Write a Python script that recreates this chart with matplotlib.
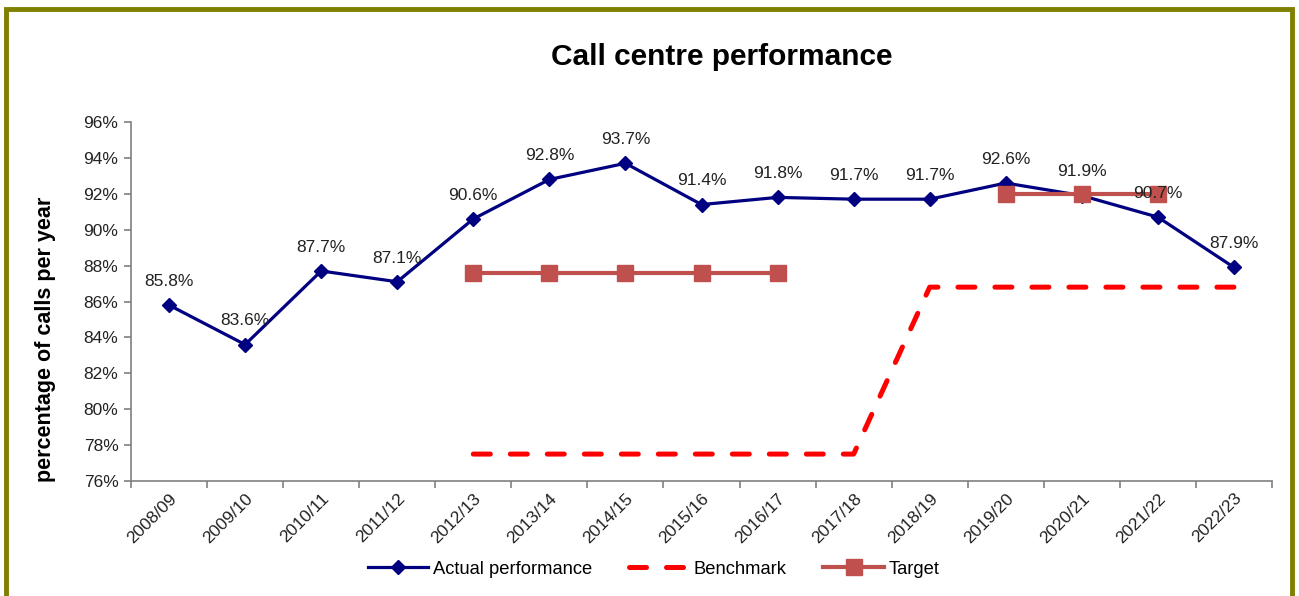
import numpy as np
import matplotlib
matplotlib.use("Agg")
from matplotlib import pyplot as plt
from matplotlib.patches import Rectangle

plt.rcParams['font.family'] = ['Liberation Sans', 'DejaVu Sans']

years = ['2008/09', '2009/10', '2010/11', '2011/12', '2012/13', '2013/14', '2014/15',
         '2015/16', '2016/17', '2017/18', '2018/19', '2019/20', '2020/21', '2021/22', '2022/23']
actual = [85.8, 83.6, 87.7, 87.1, 90.6, 92.8, 93.7, 91.4, 91.8, 91.7, 91.7, 92.6, 91.9, 90.7, 87.9]
benchmark = [np.nan, np.nan, np.nan, np.nan, 77.5, 77.5, 77.5, 77.5, 77.5, 77.5,
             86.8, 86.8, 86.8, 86.8, 86.8]
target = [np.nan, np.nan, np.nan, np.nan, 87.6, 87.6, 87.6, 87.6, 87.6, np.nan,
          np.nan, 92.0, 92.0, 92.0, np.nan]

x = np.arange(len(years))

fig = plt.figure(figsize=(12.99, 5.96), dpi=100)
ax = fig.add_axes([131/1299, 1 - 481/596, (1272 - 131)/1299, (481 - 122)/596])

# series
ax.plot(x, benchmark, color='#FF0000', lw=3.6, dashes=(3.4, 4.0),
        dash_capstyle='round', label='Benchmark', zorder=2)
ax.plot(x, actual, color='#000080', lw=2.3, marker='D', ms=7,
        label='Actual performance', zorder=3)
ax.plot(x, target, color='#C0504D', lw=3, marker='s', ms=12,
        label='Target', zorder=4)

# data labels
for xi, v in zip(x, actual):
    ax.annotate(f'{v:.1f}%', (xi, v), xytext=(0, 17), textcoords='offset points',
                ha='center', va='center', fontsize=12.5, color='#222222', zorder=5)

# axes styling
ax.set_xlim(-0.5, len(years) - 0.5)
ax.set_ylim(76, 96)
ax.set_yticks(np.arange(76, 97, 2))
ax.set_yticklabels([f'{v}%' for v in range(76, 97, 2)], fontsize=12.5, color='#222222')
ax.set_xticks(x)
ax.set_xticklabels(years, rotation=45, ha='right', rotation_mode='anchor',
                   fontsize=12.5, color='#222222')
ax.set_xticks(np.arange(-0.5, len(years), 1), minor=True)
ax.tick_params(axis='x', which='major', length=0, pad=7)
ax.tick_params(axis='x', which='minor', length=5, color='#808080', width=1.2)
ax.tick_params(axis='y', length=5, color='#808080', width=1.2, pad=4)
for s in ['top', 'right']:
    ax.spines[s].set_visible(False)
for s in ['left', 'bottom']:
    ax.spines[s].set_color('#808080')
    ax.spines[s].set_linewidth(1.2)

ax.set_ylabel('percentage of calls per year', fontsize=15.5, fontweight='bold')
ax.yaxis.set_label_coords(-0.0655, 0.395)
fig.text(0.556, 1 - 57/596, 'Call centre performance', ha='center', va='center',
         fontsize=21.5, fontweight='bold')

h, l = ax.get_legend_handles_labels()
order = [1, 0, 2]
fig.legend([h[i] for i in order], [l[i] for i in order], loc='center',
           bbox_to_anchor=(0.503, 1 - 569/596), ncol=3, frameon=False,
           fontsize=13.2, handlelength=3.3, columnspacing=2.0, handletextpad=0.25)

# olive frame around the chart
fig.patches.append(Rectangle((6/1299, -0.1), (1292 - 6)/1299, 1.1 - 8.5/596,
                             transform=fig.transFigure, fill=False,
                             edgecolor='#808000', lw=3.5, clip_on=False))

fig.savefig('out.png', dpi=100)
